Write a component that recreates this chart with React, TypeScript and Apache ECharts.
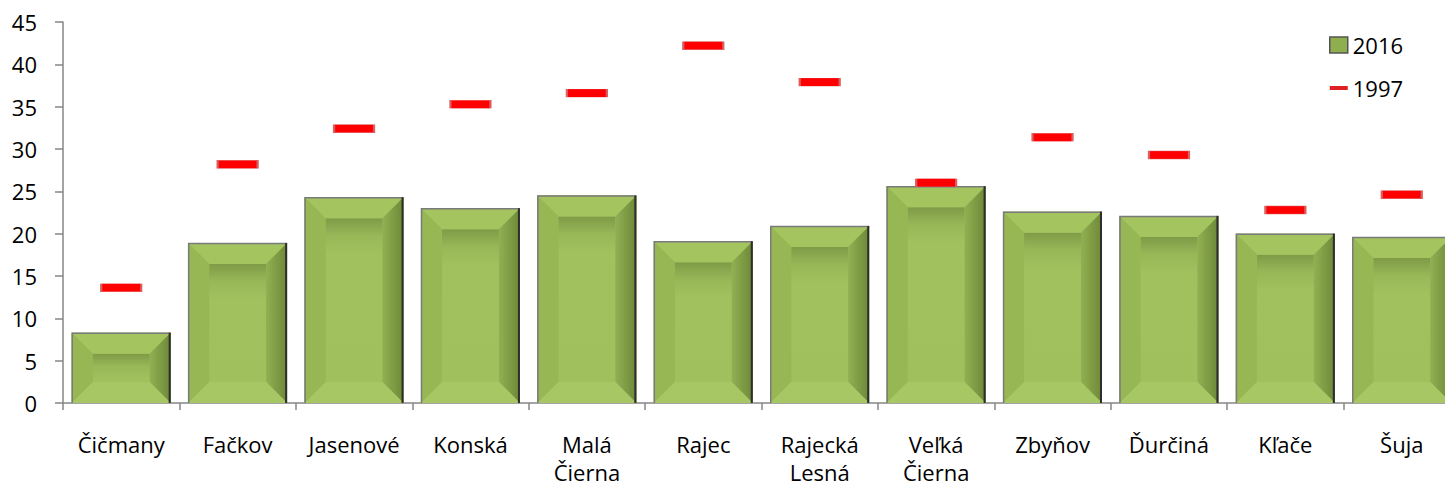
import React, { useEffect, useRef } from "react";
import * as echarts from "echarts";

const categories = [
  "Čičmany",
  "Fačkov",
  "Jasenové",
  "Konská",
  "Malá\nČierna",
  "Rajec",
  "Rajecká\nLesná",
  "Veľká\nČierna",
  "Zbyňov",
  "Ďurčiná",
  "Kľače",
  "Šuja",
];
const values2016 = [8.3, 18.9, 24.3, 23.0, 24.5, 19.1, 20.9, 25.6, 22.6, 22.1, 20.0, 19.6];
const values1997 = [13.6, 28.2, 32.4, 35.3, 36.6, 42.2, 37.9, 26.0, 31.4, 29.3, 22.8, 24.6];
const yTicks = { min: 0, max: 45, interval: 5 };

const FONT = "'Open Sans', 'Noto Sans', sans-serif";

export default function App() {
  const ref = useRef<HTMLDivElement>(null);
  useEffect(() => {
    document.body.style.margin = "0";
    if (!ref.current) return;
    const chart = echarts.init(ref.current, null, { renderer: "svg" });

    const renderItem = (params: any, api: any) => {
      const idx = api.value(0);
      const v = api.value(1);
      const top = api.coord([idx, v]);
      const base = api.coord([idx, 0]);
      const cw = api.size([1, 0])[0];
      const w = cw * 0.85;
      const x0 = top[0] - w / 2;
      const x1 = x0 + w;
      const y0 = top[1];
      const y1 = base[1];
      const h = y1 - y0;
      const i = Math.min(21, w / 4, h / 3.2);
      const ih = Math.max(1, h - 2 * i);
      const band = Math.min(0.45, 18 / ih);
      return {
        type: "group",
        children: [
          {
            type: "rect",
            shape: { x: x0, y: y0, width: w, height: h },
            style: { fill: "#9bbb59" },
          },
          {
            type: "rect",
            shape: { x: x0 + i, y: y0 + i, width: w - 2 * i, height: ih },
            style: {
              fill: {
                type: "linear",
                x: 0,
                y: 0,
                x2: 0,
                y2: 1,
                colorStops: [
                  { offset: 0, color: "#7f9b47" },
                  { offset: band, color: "#98b858" },
                  { offset: Math.min(1, band * 2), color: "#a1c05e" },
                  { offset: 1, color: "#a0bf5d" },
                ],
              },
            },
          },
          {
            type: "polygon",
            shape: { points: [[x0, y0], [x1, y0], [x1 - i, y0 + i], [x0 + i, y0 + i]] },
            style: { fill: "#a4c460" },
          },
          {
            type: "polygon",
            shape: { points: [[x0, y0], [x0 + i, y0 + i], [x0 + i, y1 - i], [x0, y1]] },
            style: { fill: "#97b755" },
          },
          {
            type: "polygon",
            shape: { points: [[x1, y0], [x1, y1], [x1 - i, y1 - i], [x1 - i, y0 + i]] },
            style: {
              fill: {
                type: "linear",
                x: 0,
                y: 0,
                x2: 1,
                y2: 0,
                colorStops: [
                  { offset: 0, color: "#91b052" },
                  { offset: 1, color: "#6d8838" },
                ],
              },
            },
          },
          {
            type: "polygon",
            shape: { points: [[x0, y1], [x1, y1], [x1 - i, y1 - i], [x0 + i, y1 - i]] },
            style: { fill: "#a7c765" },
          },
          {
            type: "polyline",
            shape: { points: [[x0 + 0.5, y1], [x0 + 0.5, y0 + 0.5], [x1, y0 + 0.5]] },
            style: { stroke: "#7a7a7a", lineWidth: 1.5, fill: "none" },
          },
          {
            type: "line",
            shape: { x1: x1 - 1, y1: y0, x2: x1 - 1, y2: y1 },
            style: { stroke: "#2e2e2e", lineWidth: 2 },
          },
        ],
      };
    };

    chart.setOption({
      animation: false,
      textStyle: { fontFamily: FONT },
      grid: { left: 63, top: 22, bottom: 84, right: 0, containLabel: false },
      legend: {
        orient: "vertical",
        left: 1329,
        top: 34,
        padding: 0,
        itemWidth: 18,
        itemHeight: 16,
        itemGap: 21,
        textStyle: { fontSize: 22, color: "#000", fontFamily: FONT },
        data: [
          {
            name: "2016",
            icon: "rect",
            itemStyle: { color: "#8fae4d", borderColor: "#555", borderWidth: 1.5 },
          },
          {
            name: "1997",
            icon: "path://M0,0h18v4h-18z",
            itemStyle: { color: "#e02020", borderColor: "#e02020", borderWidth: 0, opacity: 1 },
          },
        ],
      },
      xAxis: {
        type: "category",
        data: categories,
        axisLine: { lineStyle: { color: "#868686", width: 1.5 } },
        axisTick: { show: true, length: 7, lineStyle: { color: "#868686", width: 1.5 } },
        axisLabel: {
          fontSize: 22,
          color: "#000",
          margin: 27,
          lineHeight: 28,
          interval: 0,
          fontFamily: FONT,
        },
      },
      yAxis: {
        type: "value",
        min: yTicks.min,
        max: yTicks.max,
        interval: yTicks.interval,
        splitLine: { show: false },
        axisLine: { show: true, lineStyle: { color: "#868686", width: 1.5 } },
        axisTick: { show: true, length: 8, lineStyle: { color: "#868686", width: 1.5 } },
        axisLabel: { fontSize: 22, color: "#000", margin: 26, fontFamily: FONT },
      },
      series: [
        {
          name: "2016",
          type: "custom",
          renderItem,
          encode: { x: 0, y: 1 },
          itemStyle: { color: "#8fae4d" },
          data: values2016.map((v, k) => [k, v]),
          z: 2,
        },
        {
          name: "1997",
          type: "scatter",
          symbol: "rect",
          symbolSize: [40, 8],
          itemStyle: { color: "#ff0000", borderColor: "#d86060", borderWidth: 1, opacity: 1 },
          data: values1997.map((v, k) => [k, v]),
          z: 5,
        },
      ],
    });
    return () => chart.dispose();
  }, []);
  return (
    <div
      style={{
        position: "absolute",
        left: 0,
        top: 0,
        width: 1445,
        height: 487,
        overflow: "hidden",
      }}
    >
      <div ref={ref} style={{ width: 1460, height: 487 }} />
    </div>
  );
}
